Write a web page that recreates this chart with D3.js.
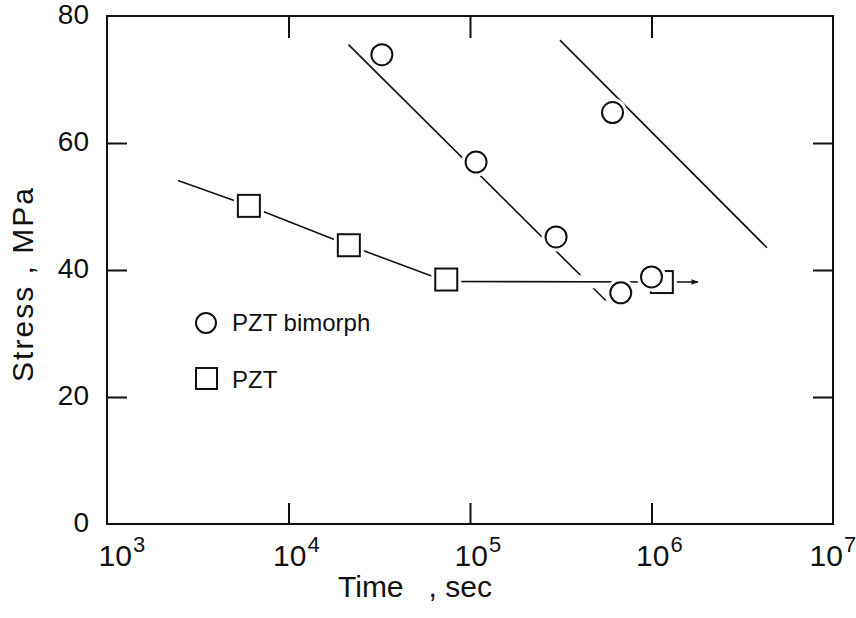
<!DOCTYPE html>
<html><head><meta charset="utf-8">
<script src="https://cdn.jsdelivr.net/npm/d3@7"></script>
<style>
html,body{margin:0;padding:0;background:#fff;}
svg{display:block;}
text{font-family:"Liberation Sans","DejaVu Sans",sans-serif;fill:#111;}
</style></head>
<body>
<svg id="chart" width="856" height="618"></svg>
<script>
// ---- data ----
const xTickValues = [1e3, 1e4, 1e5, 1e6, 1e7];
const xTickExponents = ["3", "4", "5", "6", "7"];
const yTickValues = [0, 20, 40, 60, 80];
const xInnerTicks = [1e4, 1e5, 1e6];
const yInnerTicks = [20, 40, 60];

// PZT bimorph (circles)
const bimorphTime   = [3.27e4, 1.08e5, 2.98e5, 6.77e5, 1.0e6, 6.1e5];
const bimorphStress = [73.9, 57.0, 45.2, 36.4, 38.9, 64.8];
// PZT (squares)
const pztTime   = [6.05e3, 2.15e4, 7.4e4, 1.14e6];
const pztStress = [50.1, 43.9, 38.5, 38.1];

// fitted lines
const lineATime = [2.14e4, 5.6e5];
const lineAStress = [75.5, 35.2];
const lineBTime = [3.13e5, 4.33e6];
const lineBStress = [76.2, 43.5];
const pztLineTime   = [2.46e3, 6.05e3, 2.15e4, 7.4e4, 1.14e6];
const pztLineStress = [54.1, 50.1, 43.9, 38.2, 38.1];
const arrowTime = [1.14e6, 1.8e6];
const arrowStress = [38.1, 38.1];

const legendItems = ["PZT bimorph", "PZT"];

// ---- chart ----
const svg = d3.select("#chart");
const L = 107, R = 833, T = 16, B = 524;
const x = d3.scaleLog().domain([1e3, 1e7]).range([L, R]);
const y = d3.scaleLinear().domain([0, 80]).range([B, T]);

const zip = (a, b) => a.map((v, i) => [v, b[i]]);
const line = d3.line().x(d => x(d[0])).y(d => y(d[1]));

// inward ticks
function tickAxis(axis, tx, ty) {
  const g = svg.append("g").attr("transform", `translate(${tx},${ty})`).call(axis);
  g.select(".domain").remove();
  g.selectAll(".tick line").attr("stroke", "#111").attr("stroke-width", 2);
  g.selectAll(".tick text").remove();
  return g;
}
tickAxis(d3.axisBottom(x).tickValues(xInnerTicks).tickSize(-21), 0, B);
tickAxis(d3.axisTop(x).tickValues(xInnerTicks).tickSize(-22), 0, T);
tickAxis(d3.axisLeft(y).tickValues(yInnerTicks).tickSize(-20), L, 0);
tickAxis(d3.axisRight(y).tickValues(yInnerTicks).tickSize(-20), R, 0);

// frame
svg.append("rect").attr("x", L).attr("y", T).attr("width", R - L).attr("height", B - T)
  .attr("fill", "none").attr("stroke", "#111").attr("stroke-width", 2);

// y tick labels
const yl = svg.append("g").attr("transform", `translate(${L},0)`)
  .call(d3.axisLeft(y).tickValues(yTickValues).tickSize(0).tickPadding(18).tickFormat(d3.format("d")));
yl.select(".domain").remove();
yl.selectAll(".tick text").attr("font-size", 28).attr("font-family", "Liberation Sans, sans-serif")
  .attr("fill", "#111").attr("dy", "0.28em");

// x tick labels with superscripts ("10" centred on the tick)
const xl = svg.append("g").attr("transform", `translate(0,${B})`)
  .call(d3.axisBottom(x).tickValues(xTickValues).tickSize(0).tickFormat(""));
xl.select(".domain").remove();
xl.selectAll(".tick").each(function(d, i) {
  const t = d3.select(this).append("text")
    .attr("x", i === 0 ? -9 : (i === 4 ? -24 : -16)).attr("y", 42).attr("text-anchor", "start").attr("font-size", 30)
    .attr("font-family", "Liberation Sans, sans-serif").attr("fill", "#111");
  t.append("tspan").text("10");
  t.append("tspan").attr("dx", 1).attr("dy", -14).attr("font-size", 22).text(xTickExponents[i]);
});

// axis titles
svg.append("text").attr("x", 338).attr("y", 597).attr("font-size", 30)
  .attr("xml:space", "preserve").style("white-space", "pre").text("Time   , sec");
svg.append("text").attr("transform", "translate(33,285) rotate(-90)")
  .attr("text-anchor", "middle").attr("font-size", 30)
  .attr("textLength", 194).attr("lengthAdjust", "spacing")
  .style("white-space", "pre").text("Stress , MPa");

// lines
const lines = svg.append("g").attr("fill", "none").attr("stroke", "#111").attr("stroke-width", 1.6);
lines.append("path").attr("d", line(zip(lineATime, lineAStress)));
lines.append("path").attr("d", line(zip(lineBTime, lineBStress)));
// PZT line with white casing (creates crossing gap)
lines.append("path").attr("d", line(zip(pztLineTime, pztLineStress)))
  .attr("stroke", "#fff").attr("stroke-width", 13);
lines.append("path").attr("d", line(zip(pztLineTime, pztLineStress)));
// arrow
svg.append("defs").append("marker").attr("id", "arr").attr("viewBox", "0 0 10 10")
  .attr("refX", 9).attr("refY", 5).attr("markerWidth", 9).attr("markerHeight", 7)
  .attr("markerUnits", "userSpaceOnUse").attr("orient", "auto")
  .append("path").attr("d", "M0,1 L10,5 L0,9 Z").attr("fill", "#111");
svg.append("path").attr("d", line(zip(arrowTime, arrowStress)))
  .attr("fill", "none").attr("stroke", "#111").attr("stroke-width", 1.6)
  .attr("marker-end", "url(#arr)");

// markers
const S = 22, r = 10.5;
const sq = svg.append("g");
zip(pztTime, pztStress).forEach(d => {
  sq.append("rect").attr("x", x(d[0]) - S / 2).attr("y", y(d[1]) - S / 2)
    .attr("width", S).attr("height", S).attr("fill", "#fff").attr("stroke", "#fff").attr("stroke-width", 8);
  sq.append("rect").attr("x", x(d[0]) - S / 2).attr("y", y(d[1]) - S / 2)
    .attr("width", S).attr("height", S).attr("fill", "#fff").attr("stroke", "#111").attr("stroke-width", 2);
});
const ci = svg.append("g");
zip(bimorphTime, bimorphStress).forEach(d => {
  ci.append("circle").attr("cx", x(d[0])).attr("cy", y(d[1])).attr("r", r)
    .attr("fill", "#fff").attr("stroke", "#fff").attr("stroke-width", 8);
  ci.append("circle").attr("cx", x(d[0])).attr("cy", y(d[1])).attr("r", r)
    .attr("fill", "#fff").attr("stroke", "#111").attr("stroke-width", 2);
});

// legend
const lg = svg.append("g");
lg.append("circle").attr("cx", 206).attr("cy", 323).attr("r", 10)
  .attr("fill", "none").attr("stroke", "#111").attr("stroke-width", 2);
lg.append("text").attr("x", 232).attr("y", 331).attr("font-size", 24).text(legendItems[0]);
lg.append("rect").attr("x", 196).attr("y", 368).attr("width", 21).attr("height", 21)
  .attr("fill", "none").attr("stroke", "#111").attr("stroke-width", 2);
lg.append("text").attr("x", 232).attr("y", 388).attr("font-size", 24).text(legendItems[1]);
</script>
</body></html>
